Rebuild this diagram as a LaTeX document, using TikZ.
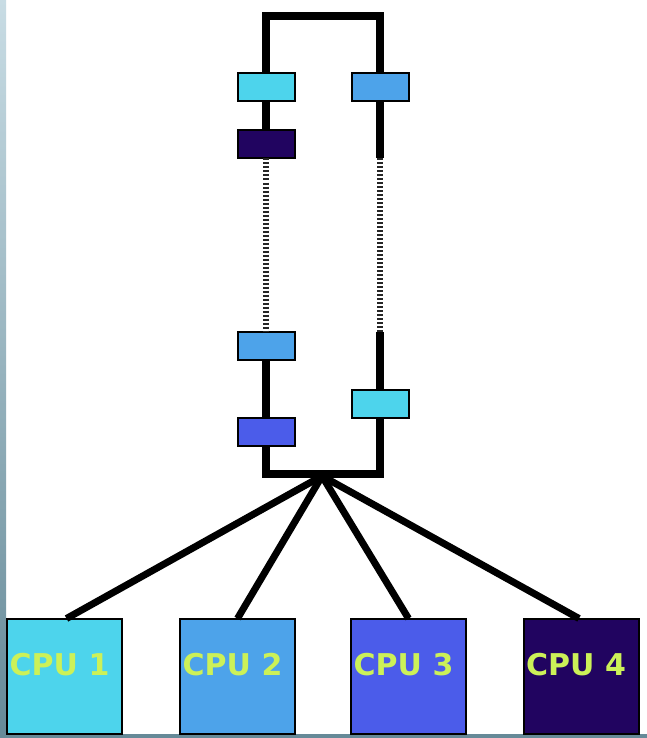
\documentclass[tikz,border=0pt]{standalone}
\usepackage{fontspec}
\setmainfont{DejaVu Sans}
\definecolor{cyanA}{HTML}{4DD4EC}
\definecolor{blueB}{HTML}{4DA3EA}
\definecolor{blueC}{HTML}{4B5CEA}
\definecolor{indigoD}{HTML}{210460}
\definecolor{labelcol}{HTML}{CCF158}
\definecolor{edgetop}{HTML}{C8DCE4}
\definecolor{edgebot}{HTML}{668A98}
\begin{document}
\begin{tikzpicture}[x=1pt,y=-1pt,
  chip/.style={draw=black, line width=2pt, minimum width=57pt, minimum height=28pt, inner sep=0pt, outer sep=0pt},
  cpubox/.style={draw=black, line width=2pt, minimum width=115pt, minimum height=115pt, inner sep=0pt, outer sep=0pt},
  cpulabel/.style={font=\bfseries\fontsize{30}{30}\selectfont, text=labelcol, inner sep=0pt, anchor=west},
  wire/.style={draw=black, line width=8pt, line join=miter},
  thinwire/.style={draw=black, line width=7pt},
  dotwire/.style={draw=black!85, line width=6pt, dash pattern=on 2pt off 2pt}]
\useasboundingbox (0,0) rectangle (647,738);
\fill[white] (0,0) rectangle (647,738);
% frame edges
\shade[top color=edgetop, bottom color=edgebot] (0,0) rectangle (6,738);
\fill[edgebot] (0,734) rectangle (647,738);

% left chain
\node[chip, fill=cyanA]   (l1) at (266,87) {};
\node[chip, fill=indigoD] (l2) at (266,144.5) {};
\node[chip, fill=blueB]   (l3) at (266,345.5) {};
\node[chip, fill=blueC]   (l4) at (266,432) {};
% right chain
\node[chip, fill=blueB]   (r1) at (380,87) {};
\node[chip, fill=cyanA]   (r2) at (380,403.5) {};

\coordinate (tl) at (266,16);
\coordinate (tr) at (380,16);
\coordinate (bl) at (266,474);
\coordinate (br) at (380,474);
\coordinate (hub) at (322,476);
\coordinate (rs) at (380,158);
\coordinate (re) at (380,332);

% upper loop
\draw[wire] (l1.north) -- (tl) -- (tr) -- (r1.north);
\draw[wire] (l1.south) -- (l2.north);
\draw[dotwire] (l2.south) -- (l3.north);
\draw[wire] (l3.south) -- (l4.north);
\draw[wire] (r1.south) -- (rs);
\draw[dotwire] (rs) -- (re);
\draw[wire] (re) -- (r2.north);
% lower loop
\draw[wire] (l4.south) -- (bl) -- (br) -- (r2.south);

% processors
\node[cpubox, fill=cyanA]   (c1) at (64.5,676) {};
\node[cpubox, fill=blueB]   (c2) at (237.5,676) {};
\node[cpubox, fill=blueC]   (c3) at (408.5,676) {};
\node[cpubox, fill=indigoD] (c4) at (581,676) {};
\node[cpulabel] (t1) at ([xshift=2.5pt,yshift=11pt]c1.west) {CPU 1};
\node[cpulabel] (t2) at ([xshift=2.5pt,yshift=11pt]c2.west) {CPU 2};
\node[cpulabel] (t3) at ([xshift=2.5pt,yshift=11pt]c3.west) {CPU 3};
\node[cpulabel] (t4) at ([xshift=2.5pt,yshift=11pt]c4.west) {CPU 4};

\draw[thinwire] (hub) -- ([xshift=2pt]c1.north);
\draw[thinwire] (hub) -- (c2.north);
\draw[thinwire] (hub) -- (c3.north);
\draw[thinwire] (hub) -- ([xshift=-2pt]c4.north);
\end{tikzpicture}
\end{document}
